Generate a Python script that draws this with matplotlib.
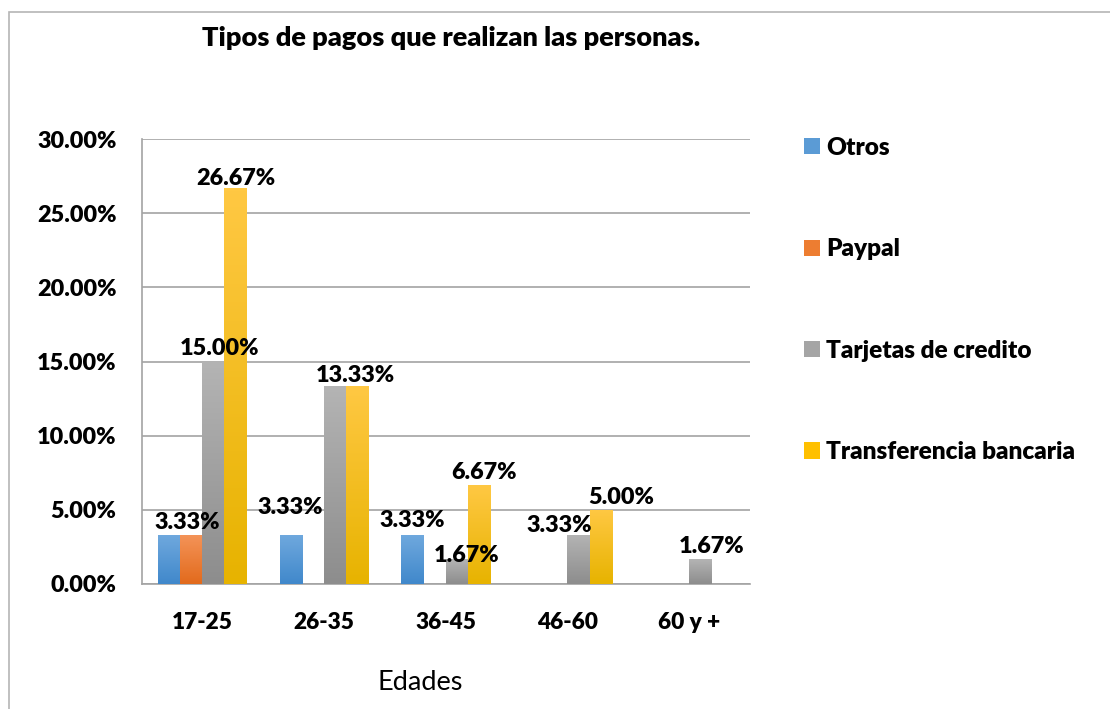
import numpy as np
import matplotlib
matplotlib.use('Agg')
import matplotlib.pyplot as plt
from matplotlib.colors import LinearSegmentedColormap
from matplotlib.patches import Patch, Rectangle

# datos
edades = ['17-25', '26-35', '36-45', '46-60', '60 y +']
series = ['Otros', 'Paypal', 'Tarjetas de credito', 'Transferencia bancaria']
otros = [3.33, 3.33, 3.33, 0, 0]
paypal = [3.33, 0, 0, 0, 0]
tarjetas = [15.00, 13.33, 1.67, 3.33, 1.67]
transferencia = [26.67, 13.33, 6.67, 5.00, 0]
valores = [otros, paypal, tarjetas, transferencia]

# colores (arriba, abajo) del degradado
colores = [('#70a9de', '#4088cb'),
           ('#f49459', '#e26a1c'),
           ('#b4b4b4', '#8d8d8d'),
           ('#ffc843', '#e7b300')]
colores_leyenda = ['#5b9bd5', '#ed7d31', '#a5a5a5', '#ffc000']

# etiquetas visibles: (serie, categoria) -> desplazamiento en pixeles (dx, dy)
etiquetas = {
    (0, 0): (18, -12), (2, 0): (6, -13), (3, 0): (0, -10),
    (0, 1): (-1, -27), (3, 1): (-2, -11),
    (0, 2): (0, -14), (2, 2): (10, -4), (3, 2): (5, -13),
    (2, 3): (-19, -9), (3, 3): (21, -12),
    (2, 4): (11, -13),
}

plt.rcParams['font.family'] = ['Lato', 'DejaVu Sans']
negrita = 'heavy'
fig = plt.figure(figsize=(11.1, 7.09), dpi=100)
ax = fig.add_axes([141.5 / 1110, 1 - 584 / 709, (750 - 141.5) / 1110, (584 - 139) / 709])

x = np.arange(len(edades))
ancho = 0.182
px = 72 / 100  # puntos por pixel

for j, vals in enumerate(valores):
    pos = x + (j - 1.5) * ancho
    bars = ax.bar(pos, vals, ancho, color='none', edgecolor='none', zorder=3)
    cmap = LinearSegmentedColormap.from_list('g%d' % j, [colores[j][1], colores[j][0]])
    grad = np.linspace(0, 1, 128).reshape(-1, 1)
    for i, b in enumerate(bars):
        h = b.get_height()
        if h <= 0:
            continue
        im = ax.imshow(grad, extent=[b.get_x(), b.get_x() + b.get_width(), 0, h],
                       origin='lower', cmap=cmap, aspect='auto', zorder=3)
        im.set_clip_path(b)
        if (j, i) in etiquetas:
            dx, dy = etiquetas[(j, i)]
            ax.annotate('%.2f%%' % h, (b.get_x() + b.get_width() / 2, h),
                        xytext=(dx * px, -dy * px), textcoords='offset points',
                        ha='center', va='center', fontsize=16.8, fontweight=negrita,
                        zorder=5)

ax.set_xlim(-0.5, len(edades) - 0.5)
ax.set_ylim(0, 30)
ax.set_yticks(np.arange(0, 31, 5))
ax.set_yticklabels(['%.2f%%' % v for v in np.arange(0, 31, 5)])
ax.set_xticks(x)
ax.set_xticklabels(edades)
ax.tick_params(axis='y', length=0, pad=18, labelsize=16.8)
ax.tick_params(axis='x', length=0, pad=20, labelsize=16.3)
for lab in ax.get_xticklabels() + ax.get_yticklabels():
    lab.set_fontweight(negrita)
ax.grid(axis='y', color='#a3a3a3', linewidth=1.2, zorder=0)
ax.set_axisbelow(True)
for s in ['top', 'right']:
    ax.spines[s].set_visible(False)
for s in ['left', 'bottom']:
    ax.spines[s].set_color('#a3a3a3')
    ax.spines[s].set_linewidth(1.2)

# titulo y eje
fig.text(451 / 1110, 1 - 38 / 709, 'Tipos de pagos que realizan las personas.',
         ha='center', va='center', fontsize=19.5, fontweight=negrita)
fig.text(420 / 1110, 1 - 683 / 709, 'Edades', ha='center', va='center', fontsize=19.5)

# leyenda
handles = [Patch(facecolor=c, edgecolor='none') for c in colores_leyenda]
fig.legend(handles, series, loc='center left', bbox_to_anchor=(804 / 1110, 1 - 300 / 709),
           frameon=False, prop={'weight': negrita, 'size': 17.6},
           handlelength=0.64, handleheight=0.64, handletextpad=0.25,
           labelspacing=3.25, borderpad=0, borderaxespad=0)

# borde del grafico
fig.patches.append(Rectangle((8.5 / 1110, -0.1), 1.2, 1 - 11.5 / 709 + 0.1,
                             transform=fig.transFigure, fill=False,
                             edgecolor='#b5b5b5', linewidth=1.2))

fig.savefig('out.png', dpi=100)
